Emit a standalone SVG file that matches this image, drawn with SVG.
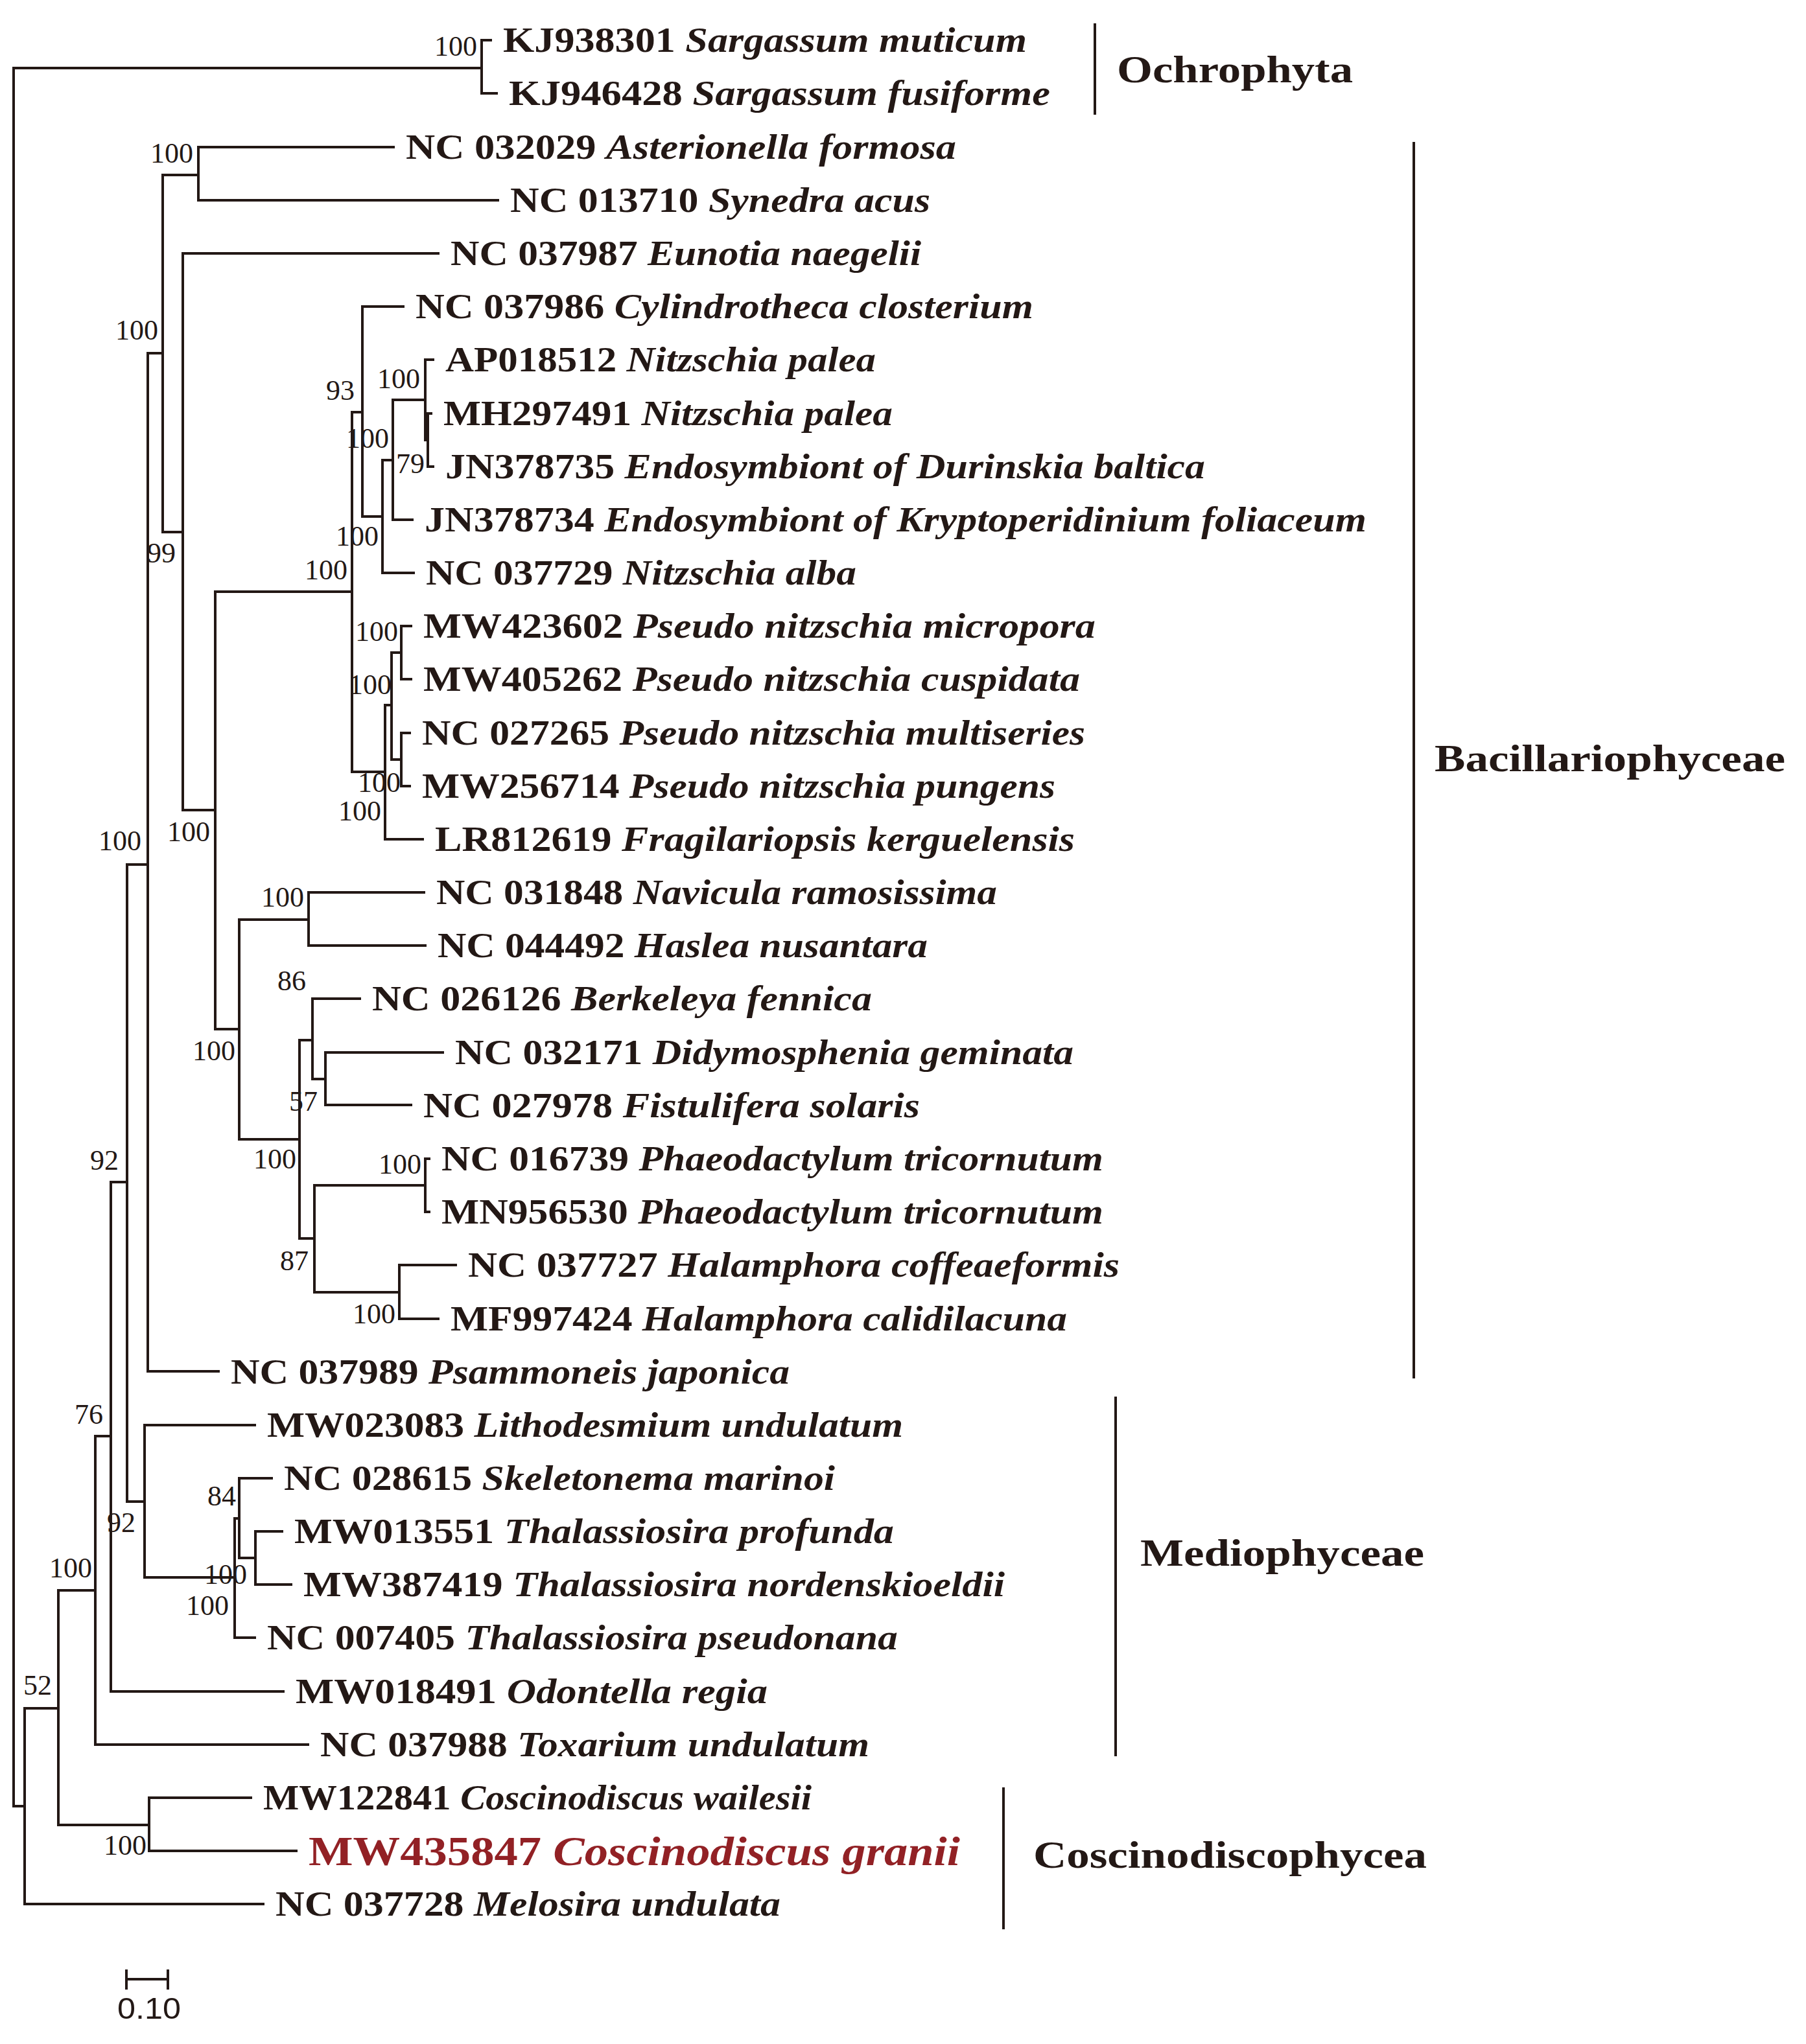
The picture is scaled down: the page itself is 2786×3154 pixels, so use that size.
<svg xmlns="http://www.w3.org/2000/svg" width="2786" height="3154" viewBox="0 0 2786 3154">
<style>
.t{font-family:"Liberation Serif","Times New Roman",serif;font-weight:bold;font-size:54px;fill:#231815}
.i{font-style:italic}
.s{font-family:"Liberation Serif","Times New Roman",serif;font-size:44px;fill:#231815;text-anchor:middle}
.c{font-family:"Liberation Serif","Times New Roman",serif;font-weight:bold;font-size:60px;fill:#231815}
.e{fill:none;stroke:#231815;stroke-width:4;stroke-linecap:square}
.r{fill:#922125;font-size:64px}
</style>
<rect width="2786" height="3154" fill="#fff"/>
<g id="connectors" class="e">
<path d="M21,105V2787H38M21,105H743M743,62V144M743,62H757M743,144H766"/>
<path d="M38,2636V2938H406M38,2636H90M90,2454V2816H230M230,2774V2856M230,2774H387M230,2856H457"/>
<path d="M90,2454H147M147,2216V2692H475M147,2216H171M171,1824V2610H437M171,1824H196M196,1334V2317H223M196,1334H228"/>
<path d="M223,2199V2434H362M223,2199H393M362,2343V2527H393M362,2343H369M369,2281V2404H394M369,2281H419M394,2363V2445M394,2363H435M394,2445H449"/>
<path d="M228,545V2116H337M228,545H251M251,270V821H282M251,270H306M306,227V309M306,227H607M306,309H768"/>
<path d="M282,391V1250H332M282,391H676M332,913V1588H369M332,913H543"/>
<path d="M543,636V1191H594M543,636H559M559,473V797H590M559,473H622M590,710V884H638M590,710H606M606,617V802H636M606,617H656M656,555V679H660M656,555H668M660,638V720M660,638H665M660,720H668"/>
<path d="M594,1088V1295H652M594,1088H604M604,1007V1172H619M604,1007H619M619,966V1048M619,966H634M619,1048H634M619,1131V1213M619,1131H632M619,1213H632"/>
<path d="M369,1419V1758H462M369,1419H476M476,1377V1459M476,1377H654M476,1459H656M462,1605V1911H485M462,1605H482M482,1541V1665H502M482,1541H555M502,1624V1705M502,1624H683M502,1705H634"/>
<path d="M485,1829V1994H616M485,1829H656M656,1788V1870M656,1788H662M656,1870H662M616,1952V2035M616,1952H703M616,2035H676"/>
<path d="M1689,38V175M2181,221V2125M1721,2157V2708M1548,2760V2975"/>
<path d="M195,3054H259M195,3041V3068M259,3041V3068"/>
</g>
<g id="support">
<text class="s" x="703" y="86">100</text>
<text class="s" x="265" y="251">100</text>
<text class="s" x="211" y="524">100</text>
<text class="s" x="525" y="617">93</text>
<text class="s" x="615" y="599">100</text>
<text class="s" x="567" y="691">100</text>
<text class="s" x="633" y="730">79</text>
<text class="s" x="551" y="842">100</text>
<text class="s" x="503" y="894">100</text>
<text class="s" x="249" y="868">99</text>
<text class="s" x="581" y="989">100</text>
<text class="s" x="571" y="1071">100</text>
<text class="s" x="585" y="1222">100</text>
<text class="s" x="555" y="1266">100</text>
<text class="s" x="185" y="1312">100</text>
<text class="s" x="291" y="1298">100</text>
<text class="s" x="436" y="1399">100</text>
<text class="s" x="450" y="1528">86</text>
<text class="s" x="330" y="1636">100</text>
<text class="s" x="468" y="1714">57</text>
<text class="s" x="424" y="1803">100</text>
<text class="s" x="617" y="1811">100</text>
<text class="s" x="454" y="1960">87</text>
<text class="s" x="577" y="2042">100</text>
<text class="s" x="161" y="1805">92</text>
<text class="s" x="137" y="2197">76</text>
<text class="s" x="342" y="2323">84</text>
<text class="s" x="187" y="2364">92</text>
<text class="s" x="348" y="2444">100</text>
<text class="s" x="320" y="2492">100</text>
<text class="s" x="109" y="2434">100</text>
<text class="s" x="58" y="2615">52</text>
<text class="s" x="193" y="2862">100</text>
</g>
<g id="n0"><text class="t" x="776" y="80" textLength="808" lengthAdjust="spacingAndGlyphs">KJ938301 <tspan class="i">Sargassum muticum</tspan></text></g>
<g id="n1"><text class="t" x="785" y="162" textLength="835" lengthAdjust="spacingAndGlyphs">KJ946428 <tspan class="i">Sargassum fusiforme</tspan></text></g>
<g id="n2"><text class="t" x="626" y="245" textLength="849" lengthAdjust="spacingAndGlyphs">NC 032029 <tspan class="i">Asterionella formosa</tspan></text></g>
<g id="n3"><text class="t" x="787" y="327" textLength="648" lengthAdjust="spacingAndGlyphs">NC 013710 <tspan class="i">Synedra acus</tspan></text></g>
<g id="n4"><text class="t" x="695" y="409" textLength="726" lengthAdjust="spacingAndGlyphs">NC 037987 <tspan class="i">Eunotia naegelii</tspan></text></g>
<g id="n5"><text class="t" x="641" y="491" textLength="953" lengthAdjust="spacingAndGlyphs">NC 037986 <tspan class="i">Cylindrotheca closterium</tspan></text></g>
<g id="n6"><text class="t" x="687" y="573" textLength="664" lengthAdjust="spacingAndGlyphs">AP018512 <tspan class="i">Nitzschia palea</tspan></text></g>
<g id="n7"><text class="t" x="684" y="656" textLength="693" lengthAdjust="spacingAndGlyphs">MH297491 <tspan class="i">Nitzschia palea</tspan></text></g>
<g id="n8"><text class="t" x="687" y="738" textLength="1172" lengthAdjust="spacingAndGlyphs">JN378735 <tspan class="i">Endosymbiont of Durinskia baltica</tspan></text></g>
<g id="n9"><text class="t" x="655" y="820" textLength="1453" lengthAdjust="spacingAndGlyphs">JN378734 <tspan class="i">Endosymbiont of Kryptoperidinium foliaceum</tspan></text></g>
<g id="n10"><text class="t" x="657" y="902" textLength="664" lengthAdjust="spacingAndGlyphs">NC 037729 <tspan class="i">Nitzschia alba</tspan></text></g>
<g id="n11"><text class="t" x="653" y="984" textLength="1037" lengthAdjust="spacingAndGlyphs">MW423602 <tspan class="i">Pseudo nitzschia micropora</tspan></text></g>
<g id="n12"><text class="t" x="653" y="1066" textLength="1013" lengthAdjust="spacingAndGlyphs">MW405262 <tspan class="i">Pseudo nitzschia cuspidata</tspan></text></g>
<g id="n13"><text class="t" x="651" y="1149" textLength="1023" lengthAdjust="spacingAndGlyphs">NC 027265 <tspan class="i">Pseudo nitzschia multiseries</tspan></text></g>
<g id="n14"><text class="t" x="651" y="1231" textLength="977" lengthAdjust="spacingAndGlyphs">MW256714 <tspan class="i">Pseudo nitzschia pungens</tspan></text></g>
<g id="n15"><text class="t" x="671" y="1313" textLength="987" lengthAdjust="spacingAndGlyphs">LR812619 <tspan class="i">Fragilariopsis kerguelensis</tspan></text></g>
<g id="n16"><text class="t" x="673" y="1395" textLength="865" lengthAdjust="spacingAndGlyphs">NC 031848 <tspan class="i">Navicula ramosissima</tspan></text></g>
<g id="n17"><text class="t" x="675" y="1477" textLength="756" lengthAdjust="spacingAndGlyphs">NC 044492 <tspan class="i">Haslea nusantara</tspan></text></g>
<g id="n18"><text class="t" x="574" y="1559" textLength="771" lengthAdjust="spacingAndGlyphs">NC 026126 <tspan class="i">Berkeleya fennica</tspan></text></g>
<g id="n19"><text class="t" x="702" y="1642" textLength="954" lengthAdjust="spacingAndGlyphs">NC 032171 <tspan class="i">Didymosphenia geminata</tspan></text></g>
<g id="n20"><text class="t" x="653" y="1724" textLength="766" lengthAdjust="spacingAndGlyphs">NC 027978 <tspan class="i">Fistulifera solaris</tspan></text></g>
<g id="n21"><text class="t" x="681" y="1806" textLength="1021" lengthAdjust="spacingAndGlyphs">NC 016739 <tspan class="i">Phaeodactylum tricornutum</tspan></text></g>
<g id="n22"><text class="t" x="681" y="1888" textLength="1021" lengthAdjust="spacingAndGlyphs">MN956530 <tspan class="i">Phaeodactylum tricornutum</tspan></text></g>
<g id="n23"><text class="t" x="722" y="1970" textLength="1005" lengthAdjust="spacingAndGlyphs">NC 037727 <tspan class="i">Halamphora coffeaeformis</tspan></text></g>
<g id="n24"><text class="t" x="695" y="2053" textLength="951" lengthAdjust="spacingAndGlyphs">MF997424 <tspan class="i">Halamphora calidilacuna</tspan></text></g>
<g id="n25"><text class="t" x="356" y="2135" textLength="862" lengthAdjust="spacingAndGlyphs">NC 037989 <tspan class="i">Psammoneis japonica</tspan></text></g>
<g id="n26"><text class="t" x="412" y="2217" textLength="981" lengthAdjust="spacingAndGlyphs">MW023083 <tspan class="i">Lithodesmium undulatum</tspan></text></g>
<g id="n27"><text class="t" x="438" y="2299" textLength="850" lengthAdjust="spacingAndGlyphs">NC 028615 <tspan class="i">Skeletonema marinoi</tspan></text></g>
<g id="n28"><text class="t" x="454" y="2381" textLength="925" lengthAdjust="spacingAndGlyphs">MW013551 <tspan class="i">Thalassiosira profunda</tspan></text></g>
<g id="n29"><text class="t" x="468" y="2463" textLength="1082" lengthAdjust="spacingAndGlyphs">MW387419 <tspan class="i">Thalassiosira nordenskioeldii</tspan></text></g>
<g id="n30"><text class="t" x="412" y="2545" textLength="973" lengthAdjust="spacingAndGlyphs">NC 007405 <tspan class="i">Thalassiosira pseudonana</tspan></text></g>
<g id="n31"><text class="t" x="456" y="2628" textLength="728" lengthAdjust="spacingAndGlyphs">MW018491 <tspan class="i">Odontella regia</tspan></text></g>
<g id="n32"><text class="t" x="494" y="2710" textLength="847" lengthAdjust="spacingAndGlyphs">NC 037988 <tspan class="i">Toxarium undulatum</tspan></text></g>
<g id="n33"><text class="t" x="406" y="2792" textLength="846" lengthAdjust="spacingAndGlyphs">MW122841 <tspan class="i">Coscinodiscus wailesii</tspan></text></g>
<g id="n34"><text class="t r" x="476" y="2878" textLength="1005" lengthAdjust="spacingAndGlyphs">MW435847 <tspan class="i">Coscinodiscus granii</tspan></text></g>
<g id="n35"><text class="t" x="425" y="2956" textLength="779" lengthAdjust="spacingAndGlyphs">NC 037728 <tspan class="i">Melosira undulata</tspan></text></g>
<g id="clade-ochrophyta"><text class="c" x="1723" y="127" textLength="364" lengthAdjust="spacingAndGlyphs">Ochrophyta</text></g>
<g id="clade-bacillariophyceae"><text class="c" x="2213" y="1190" textLength="541" lengthAdjust="spacingAndGlyphs">Bacillariophyceae</text></g>
<g id="clade-mediophyceae"><text class="c" x="1759" y="2416" textLength="438" lengthAdjust="spacingAndGlyphs">Mediophyceae</text></g>
<g id="clade-coscinodiscophycea"><text class="c" x="1594" y="2882" textLength="607" lengthAdjust="spacingAndGlyphs">Coscinodiscophycea</text></g>
<g id="scale"><text x="181" y="3115" textLength="98" lengthAdjust="spacingAndGlyphs" style="font-family:'Liberation Sans',Arial,sans-serif;font-size:46px;fill:#231815">0.10</text></g>
</svg>
